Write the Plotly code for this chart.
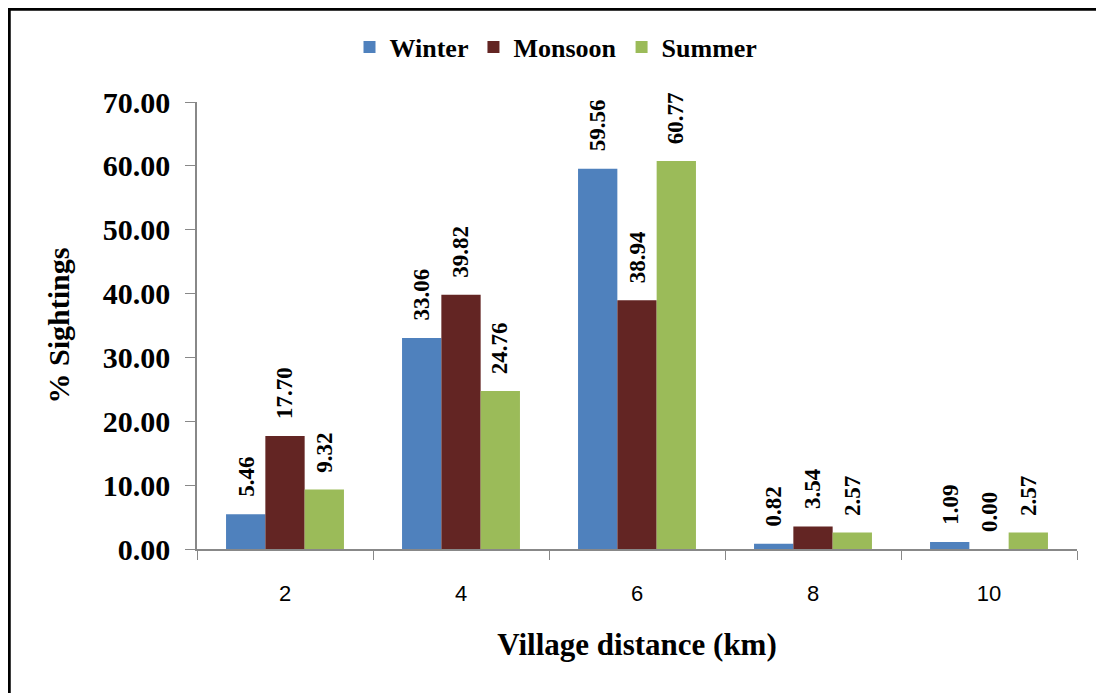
import plotly.graph_objects as go

categories = ["2", "4", "6", "8", "10"]
winter = [5.46, 33.06, 59.56, 0.82, 1.09]
monsoon = [17.70, 39.82, 38.94, 3.54, 0.00]
summer = [9.32, 24.76, 60.77, 2.57, 2.57]
series_names = ["Winter", "Monsoon", "Summer"]
colors = ["#4F81BD", "#632523", "#9BBB59"]

serif = "Liberation Serif, Times New Roman, serif"

fig = go.Figure()
for name, vals, col in zip(series_names, [winter, monsoon, summer], colors):
    fig.add_trace(go.Bar(
        x=categories, y=vals, name=name, marker_color=col,
        marker_line_width=0,
    ))

# data labels (rotated), placed above each bar of the group
bar_px = 176 * (1 - 0.33) / 3
for k, vals in enumerate([winter, monsoon, summer]):
    for i, v in enumerate(vals):
        fig.add_annotation(
            x=i, y=v, xref="x", yref="y", text=f"{v:.2f}", showarrow=False,
            textangle=-90, xanchor="center", yanchor="bottom",
            xshift=(k - 1) * bar_px, yshift=15,
            font=dict(family=serif, size=23, color="black", weight="bold"),
        )

fig.update_layout(
    width=1096, height=685,
    margin=dict(l=189, r=27, t=94, b=144, autoexpand=False),
    paper_bgcolor="white", plot_bgcolor="white",
    barmode="group", bargap=0.33, bargroupgap=0,
    showlegend=True,
    legend=dict(orientation="h", x=(556 - 197) / 880, xanchor="center",
                y=1 + (102 - 47) / 447, yanchor="middle",
                font=dict(family=serif, size=26, color="black", weight="bold"),
                itemwidth=30, tracegroupgap=0),
    xaxis=dict(
        type="category", range=[-0.5, 4.5], tickson="boundaries", ticks="outside", ticklen=9,
        tickcolor="#888888", showline=True, linecolor="#888888", linewidth=1.5,
        tickfont=dict(family="Liberation Sans, Arial, sans-serif", size=22, color="black"),
        ticklabelstandoff=24,
        title=dict(text="Village distance (km)", standoff=28,
                   font=dict(family=serif, size=31, color="black", weight="bold")),
        showgrid=False,
    ),
    yaxis=dict(
        range=[0, 70], dtick=10, tickformat=".2f", ticks="outside", ticklen=10,
        tickcolor="#888888", showline=True, linecolor="#888888", linewidth=1.5,
        tickfont=dict(family=serif, size=30, color="black", weight="bold"),
        ticklabelstandoff=9,
        title=dict(text="% Sightings", standoff=24,
                   font=dict(family=serif, size=30, color="black", weight="bold")),
        showgrid=False, zeroline=False,
    ),
)

fig.add_shape(type="rect", xref="paper", yref="paper",
              x0=(1 - 189) / 880, x1=1.2, y0=-0.5, y1=1 + (94 - 1) / 447,
              line=dict(color="black", width=3.5), fillcolor="rgba(0,0,0,0)", layer="above")

fig.write_html("out.html")
